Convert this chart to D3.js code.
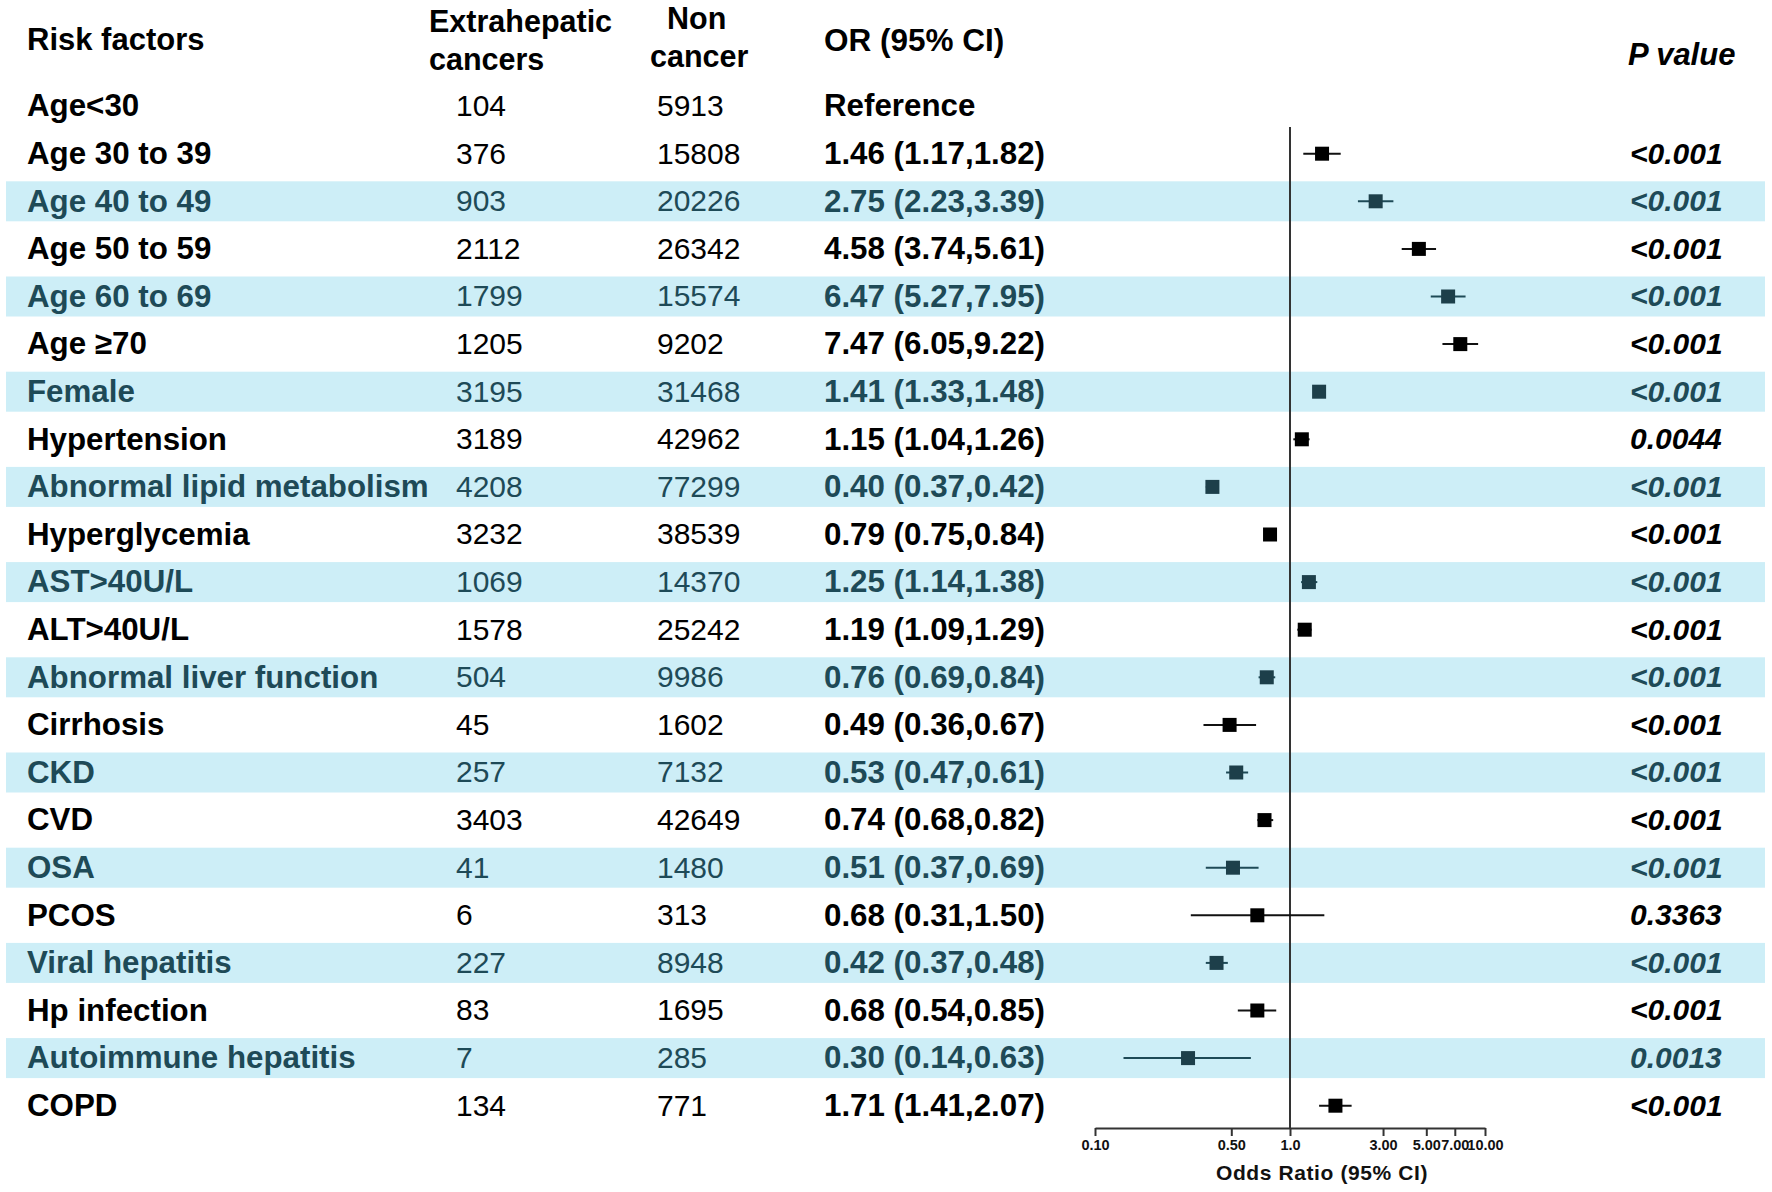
<!DOCTYPE html>
<html>
<head>
<meta charset="utf-8">
<script src="https://cdn.jsdelivr.net/npm/d3@7"></script>
<style>
  body { margin: 0; background: #fff; }
  svg { display: block; font-family: "Liberation Sans", Arial, sans-serif; }
</style>
</head>
<body>
<svg id="chart" width="1772" height="1192"></svg>
<script>
var factors = ["Age<30", "Age 30 to 39", "Age 40 to 49", "Age 50 to 59", "Age 60 to 69", "Age \u226570",
  "Female", "Hypertension", "Abnormal lipid metabolism", "Hyperglycemia", "AST>40U/L", "ALT>40U/L",
  "Abnormal liver function", "Cirrhosis", "CKD", "CVD", "OSA", "PCOS", "Viral hepatitis",
  "Hp infection", "Autoimmune hepatitis", "COPD"];
var cancers = [104, 376, 903, 2112, 1799, 1205, 3195, 3189, 4208, 3232, 1069, 1578, 504, 45, 257, 3403, 41, 6, 227, 83, 7, 134];
var nonCancer = [5913, 15808, 20226, 26342, 15574, 9202, 31468, 42962, 77299, 38539, 14370, 25242, 9986, 1602, 7132, 42649, 1480, 313, 8948, 1695, 285, 771];
// null = reference group
var or = [null, 1.46, 2.75, 4.58, 6.47, 7.47, 1.41, 1.15, 0.40, 0.79, 1.25, 1.19, 0.76, 0.49, 0.53, 0.74, 0.51, 0.68, 0.42, 0.68, 0.30, 1.71];
var lower = [null, 1.17, 2.23, 3.74, 5.27, 6.05, 1.33, 1.04, 0.37, 0.75, 1.14, 1.09, 0.69, 0.36, 0.47, 0.68, 0.37, 0.31, 0.37, 0.54, 0.14, 1.41];
var upper = [null, 1.82, 3.39, 5.61, 7.95, 9.22, 1.48, 1.26, 0.42, 0.84, 1.38, 1.29, 0.84, 0.67, 0.61, 0.82, 0.69, 1.50, 0.48, 0.85, 0.63, 2.07];
var pValues = ["", "<0.001", "<0.001", "<0.001", "<0.001", "<0.001", "<0.001", "0.0044", "<0.001", "<0.001", "<0.001",
  "<0.001", "<0.001", "<0.001", "<0.001", "<0.001", "<0.001", "0.3363", "<0.001", "<0.001", "0.0013", "<0.001"];
var tickValues = [0.1, 0.5, 1, 3, 5, 7, 10];
var tickLabels = ["0.10", "0.50", "1.0", "3.00", "5.00", "7.00", "10.00"];

var forest = {};
forest.band = "#cdeef7";
forest.teal = "#1e4a57";
forest.dark = "#000";

forest.rows = factors.map(function(f, i){
    return {name: f, i: i, cases: cancers[i], controls: nonCancer[i],
        or: or[i], lo: lower[i], hi: upper[i], p: pValues[i],
        shaded: i > 0 && i % 2 === 0};
});

forest.fmt = function(d){
    if (d.or === null) return "Reference";
    return d.or.toFixed(2) + " (" + d.lo.toFixed(2) + "," + d.hi.toFixed(2) + ")";
};

forest.build = function(sel){
    var svg = d3.select(sel);

    var x = d3.scaleLog().domain([0.1, 10]).range([1095, 1485]);
    var y = d3.scaleBand().domain(factors).range([82.3, 1129.5]).paddingInner(0);
    var cy = function(d){ return y(d.name) + y.bandwidth() / 2; };

    // shaded rows
    svg.append("g").selectAll("rect")
        .data(forest.rows.filter(function(d){ return d.shaded; }))
        .enter().append("rect")
        .attr("x", 6).attr("width", 1759)
        .attr("y", function(d){ return cy(d) - 20; })
        .attr("height", 40)
        .attr("fill", forest.band);

    // header
    var head = svg.append("g").attr("font-weight", "bold").attr("fill", "#000").attr("font-size", 30.5);
    head.append("text").attr("x", 27).attr("y", 50).attr("font-size", 31).text("Risk factors");
    head.append("text").attr("x", 429).attr("y", 32).text("Extrahepatic");
    head.append("text").attr("x", 429).attr("y", 70).text("cancers");
    head.append("text").attr("x", 667).attr("y", 29).text("Non");
    head.append("text").attr("x", 650).attr("y", 67).text("cancer");
    head.append("text").attr("x", 824).attr("y", 51).attr("font-size", 31.5).text("OR (95% CI)");
    head.append("text").attr("x", 1628).attr("y", 65).attr("font-size", 31)
        .attr("font-style", "italic").text("P value");

    // table rows
    var row = svg.append("g").selectAll("g")
        .data(forest.rows).enter().append("g")
        .attr("transform", function(d){ return "translate(0," + cy(d) + ")"; })
        .attr("fill", function(d){ return d.shaded ? forest.teal : forest.dark; })
        .attr("font-size", 31.3);

    row.append("text").attr("x", 27).attr("dy", "0.33em").attr("font-weight", "bold")
        .text(function(d){ return d.name; });
    row.append("text").attr("x", 456).attr("dy", "0.33em").attr("font-size", 30)
        .text(function(d){ return d.cases; });
    row.append("text").attr("x", 657).attr("dy", "0.33em").attr("font-size", 30)
        .text(function(d){ return d.controls; });
    row.append("text").attr("x", 824).attr("dy", "0.33em").attr("font-weight", "bold")
        .text(forest.fmt);
    row.append("text").attr("x", 1630).attr("dy", "0.33em").attr("font-weight", "bold")
        .attr("font-style", "italic").attr("font-size", 30)
        .text(function(d){ return d.p; });

    // reference line at OR = 1
    svg.append("line")
        .attr("x1", x(1)).attr("x2", x(1))
        .attr("y1", 127).attr("y2", 1128)
        .attr("stroke", "#333").attr("stroke-width", 2);

    // CI whiskers and squares
    var est = forest.rows.filter(function(d){ return d.or !== null; });
    var marks = svg.append("g").selectAll("g").data(est).enter().append("g");
    marks.append("line")
        .attr("x1", function(d){ return x(d.lo); })
        .attr("x2", function(d){ return x(d.hi); })
        .attr("y1", cy).attr("y2", cy)
        .attr("stroke", function(d){ return d.shaded ? forest.teal : "#111"; })
        .attr("stroke-width", 2);
    marks.append("rect")
        .attr("x", function(d){ return x(d.or) - 7; })
        .attr("y", function(d){ return cy(d) - 7; })
        .attr("width", 14).attr("height", 14)
        .attr("fill", function(d){ return d.shaded ? "#1d3f4a" : "#000"; });

    // x axis
    var axis = svg.append("g")
        .attr("transform", "translate(0,1128)")
        .call(d3.axisBottom(x).tickValues(tickValues)
            .tickFormat(function(v, i){ return tickLabels[i]; })
            .tickSize(8).tickSizeOuter(0));
    axis.select(".domain").attr("stroke", "#333").attr("stroke-width", 2);
    axis.selectAll(".tick line").attr("stroke", "#333").attr("stroke-width", 2);
    axis.selectAll(".tick text")
        .attr("font-family", "Liberation Sans, Arial, sans-serif")
        .attr("font-size", 14.5).attr("font-weight", "bold").attr("fill", "#111")
        .attr("y", 12).attr("dy", "0.71em");

    svg.append("text")
        .attr("x", 1322).attr("y", 1180)
        .attr("text-anchor", "middle")
        .attr("font-size", 21).attr("font-weight", "bold")
        .attr("letter-spacing", "0.6px").attr("fill", "#111")
        .text("Odds Ratio (95% CI)");
};

forest.build("#chart");
</script>
</body>
</html>
